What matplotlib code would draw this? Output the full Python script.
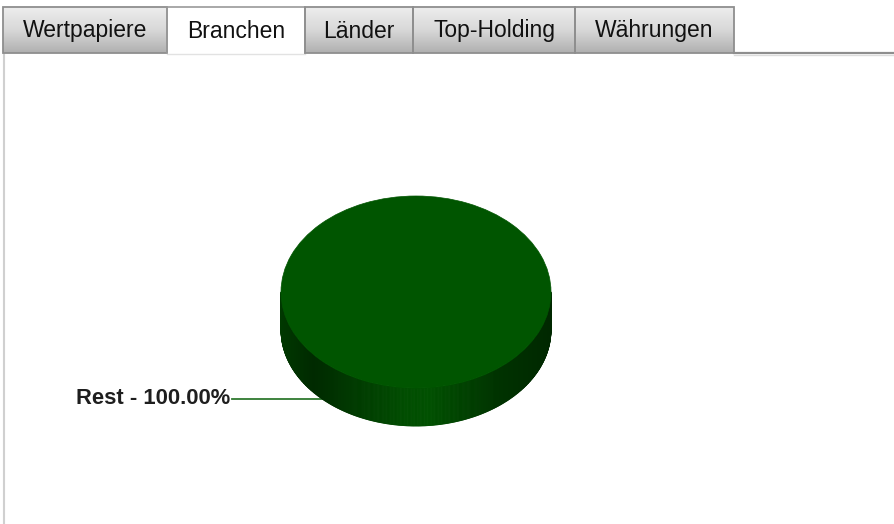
import numpy as np
import matplotlib
matplotlib.use("Agg")
import matplotlib.pyplot as plt
from matplotlib.patches import Wedge, Rectangle
from matplotlib.collections import PolyCollection
from matplotlib.transforms import Affine2D
from matplotlib.colors import LinearSegmentedColormap

# ---- data ----
tab_labels = ["Wertpapiere", "Branchen", "Länder", "Top-Holding", "Währungen"]
active_tab = "Branchen"
slice_labels = ["Rest"]
slice_values = [100.0]
slice_colors = ["#005500"]

W, H = 894, 524
fig = plt.figure(figsize=(W / 100, H / 100), dpi=100)
ax = fig.add_axes([0, 0, 1, 1])
ax.set_xlim(0, W)
ax.set_ylim(H, 0)
ax.axis("off")

FONT = ["Liberation Sans", "DejaVu Sans"]

# ---- tabs ----
tab_edges = [3, 167, 305, 413, 575, 734]
tab_top, tab_bot = 7, 53
grad = np.linspace(0, 1, 64).reshape(-1, 1)
tab_cmap = LinearSegmentedColormap.from_list("tab", ["#ededed", "#d8d8d8", "#b0b0b0"])
for i, lab in enumerate(tab_labels):
    x0, x1 = tab_edges[i], tab_edges[i + 1]
    if lab == active_tab:
        ax.add_patch(Rectangle((x0, tab_top), x1 - x0, tab_bot - tab_top,
                               facecolor="white", edgecolor="none", zorder=1))
        ax.plot([x0, x0, x1, x1], [tab_bot, tab_top, tab_top, tab_bot],
                color="#9a9a9a", lw=1.2, zorder=3)
        ax.plot([x0, x1], [tab_bot + 0.5, tab_bot + 0.5], color="#e2e2e2", lw=1, zorder=3)
    else:
        ax.imshow(grad, cmap=tab_cmap, extent=[x0, x1, tab_bot, tab_top],
                  aspect="auto", zorder=1, interpolation="bilinear")
        ax.add_patch(Rectangle((x0, tab_top), x1 - x0, tab_bot - tab_top,
                               facecolor="none", edgecolor="#8e8e8e", lw=1.3, zorder=3))
    ax.text((x0 + x1) / 2, 31, lab, ha="center", va="center", fontsize=16.5,
            family=FONT, color="#111111", zorder=4)

# baseline to the right of the tabs and left border of panel
ax.plot([tab_edges[-1], W], [tab_bot, tab_bot], color="#8e8e8e", lw=1.6, zorder=2)
ax.plot([tab_edges[-1], W], [tab_bot + 1.5, tab_bot + 1.5], color="#dcdcdc", lw=1, zorder=2)
ax.plot([3.5, 3.5], [tab_bot, H], color="#d0d0d0", lw=1.5, zorder=2)

# ---- 3D pie ----
cx, cy, rx, ry, depth = 416, 292, 135, 96, 38
total = sum(slice_values)
start = 180.0
ell = Affine2D().scale(rx, ry).translate(cx, cy) + ax.transData

side_cmap = LinearSegmentedColormap.from_list(
    "side", [(0.0, "#003800"), (0.12, "#002a00"), (0.45, "#004c00"),
             (0.55, "#005000"), (0.8, "#003300"), (1.0, "#002800")])

ang = start
for lab, val, col in zip(slice_labels, slice_values, slice_colors):
    sweep = 360.0 * val / total
    a0, a1 = ang, ang + sweep
    # visible side: front part of the arc (screen y points down => sin>0 is front)
    t = np.radians(np.linspace(a0, a1, 721))
    tt = t[np.sin(t) >= -1e-9]
    if tt.size > 1:
        xs = cx + rx * np.cos(tt)
        ys = cy + ry * np.clip(np.sin(tt), 0, None)
        order = np.argsort(xs)
        xs, ys = xs[order], ys[order]
        polys, cols = [], []
        for j in range(len(xs) - 1):
            xa, xb = xs[j], xs[j + 1]
            ya, yb = ys[j], ys[j + 1]
            polys.append([(xa, ya), (xb, yb), (xb, yb + depth), (xa, ya + depth)])
            cols.append(side_cmap((0.5 * (xa + xb) - (cx - rx)) / (2 * rx)))
        pc = PolyCollection(polys, facecolors=cols, edgecolors=cols, linewidths=0.6,
                            zorder=5)
        ax.add_collection(pc)
    top = Wedge((0, 0), 1, a0, a1, facecolor=col, edgecolor=col, lw=0.5,
                transform=ell, zorder=6)
    ax.add_patch(top)
    # label with leader line
    py = 399
    px = cx - rx * np.sqrt(1 - ((py - cy - depth) / ry) ** 2)
    ax.plot([232, px], [py, py], color="#2f7a2f", lw=1.3, zorder=4)
    ax.text(230, py, f"{lab} - {val / total * 100:.2f}%", ha="right", va="center",
            fontsize=15.8, fontweight="bold", family=FONT, color="#1e1e1e", zorder=7)
    ang = a1

fig.savefig("out.png", dpi=100)
